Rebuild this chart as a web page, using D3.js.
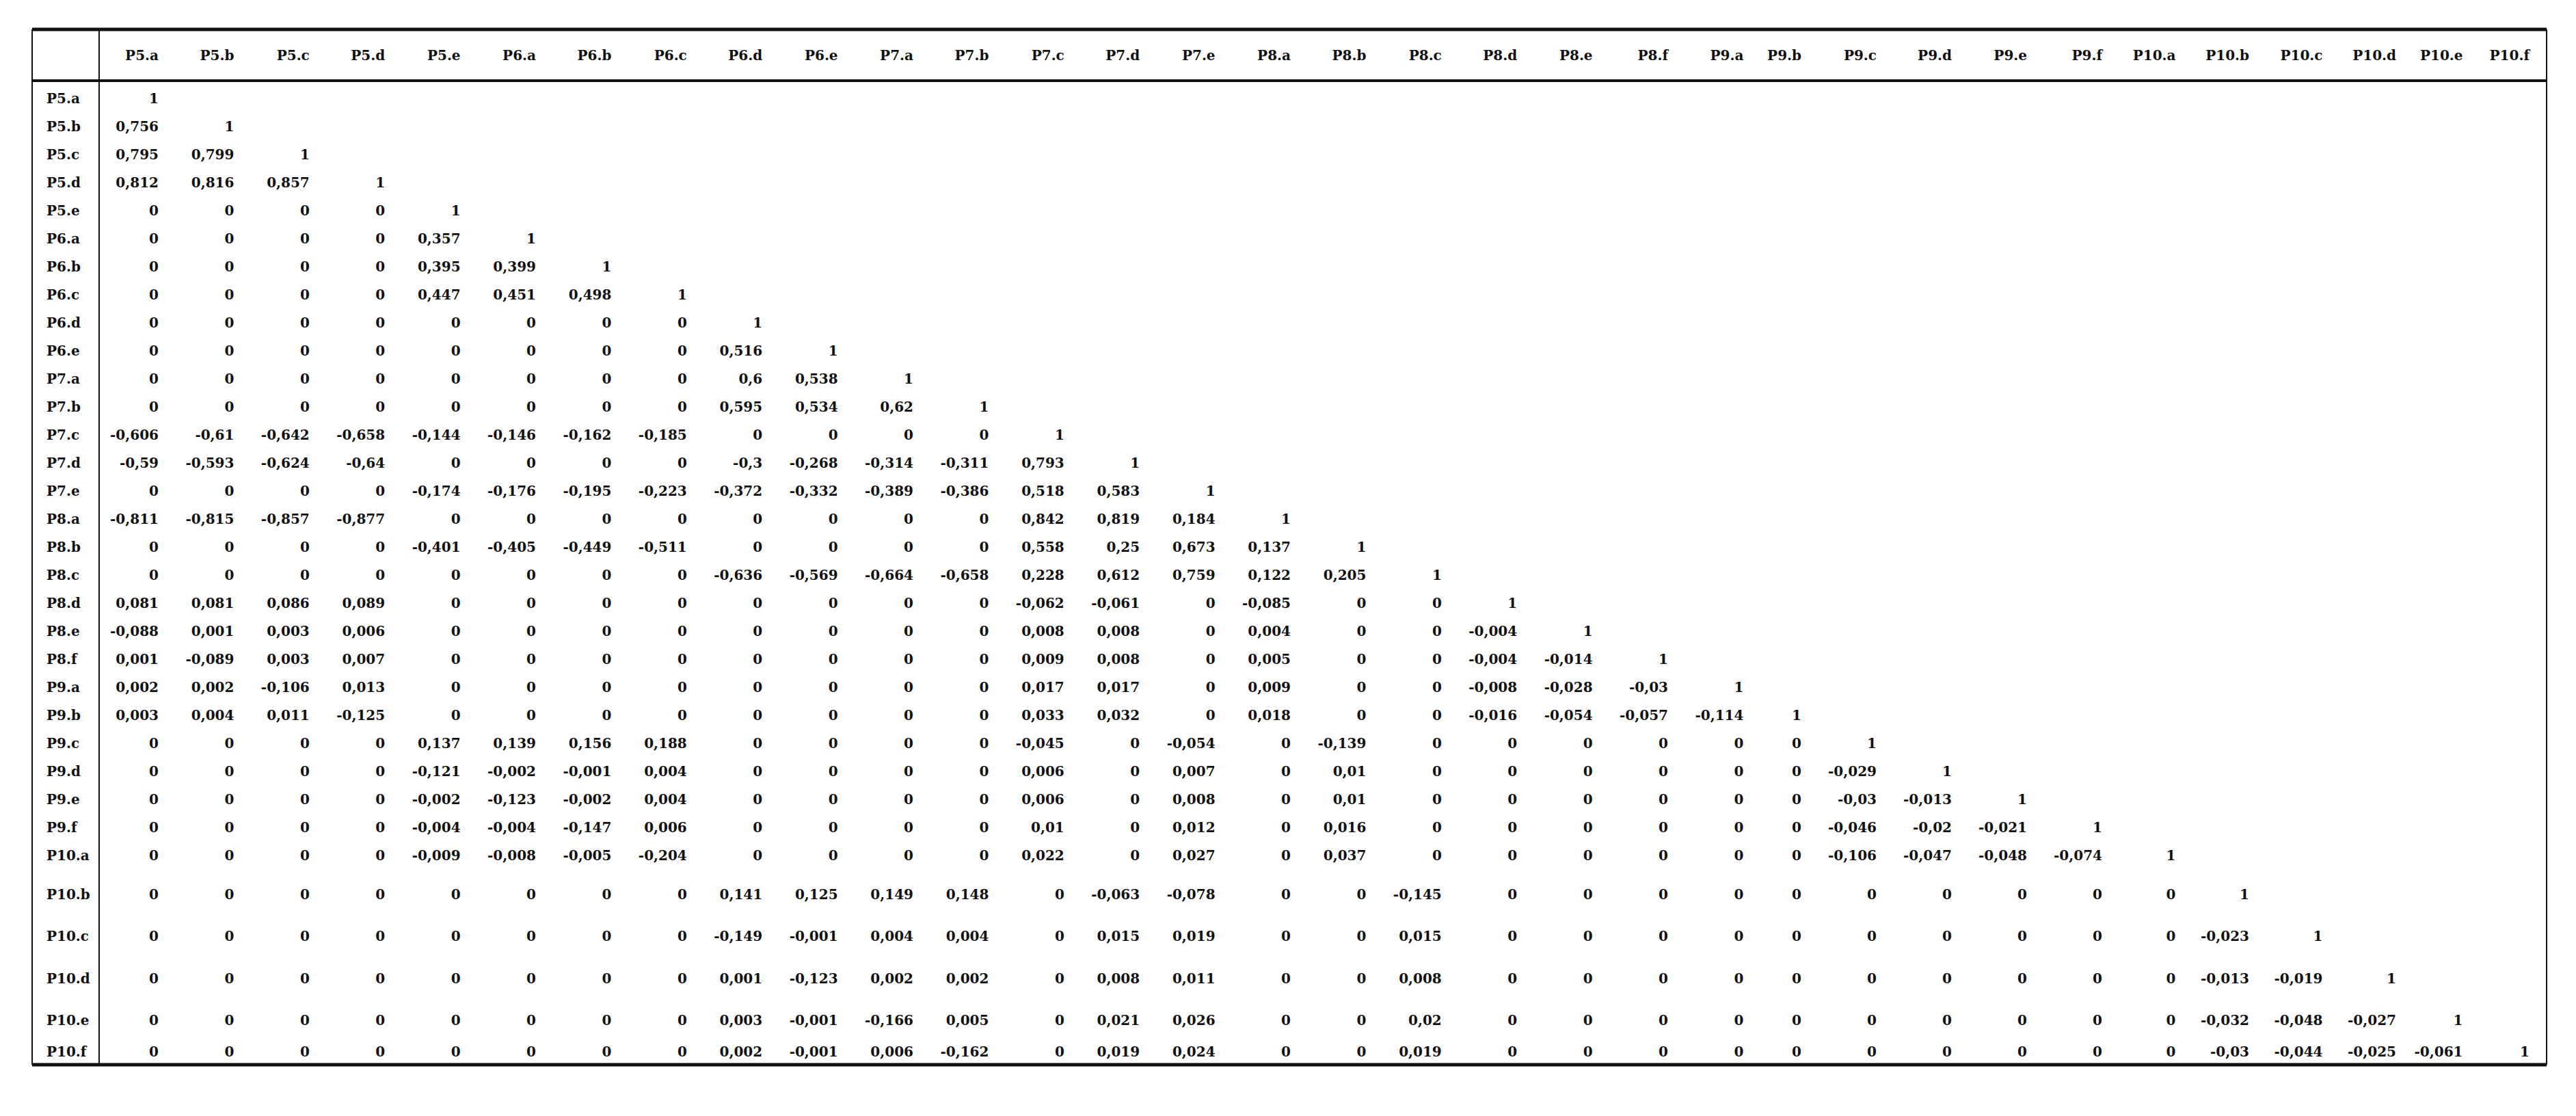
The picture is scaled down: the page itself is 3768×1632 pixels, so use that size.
<!DOCTYPE html>
<html>
<head>
<meta charset="utf-8">
<script src="https://cdn.jsdelivr.net/npm/d3@7/dist/d3.min.js"></script>
<style>
  body { margin: 0; background: #fff; }
  text { font-family: "DejaVu Serif", "Liberation Serif", serif; font-weight: bold; font-size: 20px; fill: #111; }
</style>
</head>
<body>
<svg id="chart" width="3768" height="1632"></svg>
<script>
// variables (columns and rows are the same list)
const vars = ["P5.a","P5.b","P5.c","P5.d","P5.e","P6.a","P6.b","P6.c","P6.d","P6.e",
  "P7.a","P7.b","P7.c","P7.d","P7.e","P8.a","P8.b","P8.c","P8.d","P8.e","P8.f",
  "P9.a","P9.b","P9.c","P9.d","P9.e","P9.f","P10.a","P10.b","P10.c","P10.d","P10.e","P10.f"]

// lower triangle, one array per row
const rP5a = [1]
const rP5b = [0.756,1]
const rP5c = [0.795,0.799,1]
const rP5d = [0.812,0.816,0.857,1]
const rP5e = [0,0,0,0,1]
const rP6a = [0,0,0,0,0.357,1]
const rP6b = [0,0,0,0,0.395,0.399,1]
const rP6c = [0,0,0,0,0.447,0.451,0.498,1]
const rP6d = [0,0,0,0,0,0,0,0,1]
const rP6e = [0,0,0,0,0,0,0,0,0.516,1]
const rP7a = [0,0,0,0,0,0,0,0,0.6,0.538,1]
const rP7b = [0,0,0,0,0,0,0,0,0.595,0.534,0.62,1]
const rP7c = [-0.606,-0.61,-0.642,-0.658,-0.144,-0.146,-0.162,-0.185,0,0,0,0,1]
const rP7d = [-0.59,-0.593,-0.624,-0.64,0,0,0,0,-0.3,-0.268,-0.314,-0.311,0.793,1]
const rP7e = [0,0,0,0,-0.174,-0.176,-0.195,-0.223,-0.372,-0.332,-0.389,-0.386,0.518,0.583,1]
const rP8a = [-0.811,-0.815,-0.857,-0.877,0,0,0,0,0,0,0,0,0.842,0.819,0.184,1]
const rP8b = [0,0,0,0,-0.401,-0.405,-0.449,-0.511,0,0,0,0,0.558,0.25,0.673,0.137,1]
const rP8c = [0,0,0,0,0,0,0,0,-0.636,-0.569,-0.664,-0.658,0.228,0.612,0.759,0.122,0.205,1]
const rP8d = [0.081,0.081,0.086,0.089,0,0,0,0,0,0,0,0,-0.062,-0.061,0,-0.085,0,0,1]
const rP8e = [-0.088,0.001,0.003,0.006,0,0,0,0,0,0,0,0,0.008,0.008,0,0.004,0,0,-0.004,1]
const rP8f = [0.001,-0.089,0.003,0.007,0,0,0,0,0,0,0,0,0.009,0.008,0,0.005,0,0,-0.004,-0.014,1]
const rP9a = [0.002,0.002,-0.106,0.013,0,0,0,0,0,0,0,0,0.017,0.017,0,0.009,0,0,-0.008,-0.028,-0.03,1]
const rP9b = [0.003,0.004,0.011,-0.125,0,0,0,0,0,0,0,0,0.033,0.032,0,0.018,0,0,-0.016,-0.054,-0.057,-0.114,1]
const rP9c = [0,0,0,0,0.137,0.139,0.156,0.188,0,0,0,0,-0.045,0,-0.054,0,-0.139,0,0,0,0,0,0,1]
const rP9d = [0,0,0,0,-0.121,-0.002,-0.001,0.004,0,0,0,0,0.006,0,0.007,0,0.01,0,0,0,0,0,0,-0.029,1]
const rP9e = [0,0,0,0,-0.002,-0.123,-0.002,0.004,0,0,0,0,0.006,0,0.008,0,0.01,0,0,0,0,0,0,-0.03,-0.013,1]
const rP9f = [0,0,0,0,-0.004,-0.004,-0.147,0.006,0,0,0,0,0.01,0,0.012,0,0.016,0,0,0,0,0,0,-0.046,-0.02,-0.021,1]
const rP10a = [0,0,0,0,-0.009,-0.008,-0.005,-0.204,0,0,0,0,0.022,0,0.027,0,0.037,0,0,0,0,0,0,-0.106,-0.047,-0.048,-0.074,1]
const rP10b = [0,0,0,0,0,0,0,0,0.141,0.125,0.149,0.148,0,-0.063,-0.078,0,0,-0.145,0,0,0,0,0,0,0,0,0,0,1]
const rP10c = [0,0,0,0,0,0,0,0,-0.149,-0.001,0.004,0.004,0,0.015,0.019,0,0,0.015,0,0,0,0,0,0,0,0,0,0,-0.023,1]
const rP10d = [0,0,0,0,0,0,0,0,0.001,-0.123,0.002,0.002,0,0.008,0.011,0,0,0.008,0,0,0,0,0,0,0,0,0,0,-0.013,-0.019,1]
const rP10e = [0,0,0,0,0,0,0,0,0.003,-0.001,-0.166,0.005,0,0.021,0.026,0,0,0.02,0,0,0,0,0,0,0,0,0,0,-0.032,-0.048,-0.027,1]
const rP10f = [0,0,0,0,0,0,0,0,0.002,-0.001,0.006,-0.162,0,0.019,0.024,0,0,0.019,0,0,0,0,0,0,0,0,0,0,-0.03,-0.044,-0.025,-0.061,1]

const rows = [rP5a,rP5b,rP5c,rP5d,rP5e,rP6a,rP6b,rP6c,rP6d,rP6e,rP7a,rP7b,rP7c,rP7d,rP7e,
  rP8a,rP8b,rP8c,rP8d,rP8e,rP8f,rP9a,rP9b,rP9c,rP9d,rP9e,rP9f,rP10a,rP10b,rP10c,rP10d,rP10e,rP10f]

// layout
const tLeft = 47, tRight = 3725, tTop = 43, headBottom = 118, tBottom = 1557, labelEdge = 145
// right edge of each column's text
const colRight = []
vars.forEach(function(v, i) {
  let x
  if (i <= 21) x = 232 + i * 110.4
  else if (i === 22) x = 2635
  else if (i <= 26) x = 2635 + (i - 22) * 110
  else if (i <= 30) x = 3075 + (i - 26) * 107.5
  else x = 3505 + (i - 30) * 97.5
  colRight.push(x)
})
const xCol = d3.scaleOrdinal().domain(vars).range(colRight)

// row heights: the four P10.b..P10.e rows are taller in the original
const tall = ["P10.b","P10.c","P10.d","P10.e"]
const rowH = vars.map(function(v) { return tall.indexOf(v) >= 0 ? 61.5 : 41 })
const rowCenters = []
let acc = headBottom + 5
rowH.forEach(function(h, i) {
  const c = tall.indexOf(vars[i]) >= 0 ? acc + h * 0.6 : acc + h / 2
  rowCenters.push(c)
  acc += h
})
const yRow = d3.scaleOrdinal().domain(vars).range(rowCenters)

const fmt = function(v) { return String(v).replace(".", ",") }

const svg = d3.select("#chart")

// borders
svg.append("line").attr("x1", tLeft).attr("x2", tRight).attr("y1", tTop).attr("y2", tTop)
  .attr("stroke", "#111").attr("stroke-width", 5)
svg.append("line").attr("x1", tLeft).attr("x2", tRight).attr("y1", headBottom).attr("y2", headBottom)
  .attr("stroke", "#111").attr("stroke-width", 4)
svg.append("line").attr("x1", tLeft).attr("x2", tRight).attr("y1", tBottom).attr("y2", tBottom)
  .attr("stroke", "#111").attr("stroke-width", 5)
;[tLeft, labelEdge, tRight].forEach(function(x) {
  svg.append("line").attr("x1", x).attr("x2", x).attr("y1", tTop).attr("y2", tBottom)
    .attr("stroke", "#111").attr("stroke-width", 2)
})

// column header
svg.append("g").selectAll("text")
  .data(vars)
  .enter()
  .append("text")
  .attr("x", function(d) { return xCol(d) })
  .attr("y", (tTop + headBottom) / 2)
  .attr("dy", "0.35em")
  .attr("text-anchor", "end")
  .text(function(d) { return d })

// row labels
svg.append("g").selectAll("text")
  .data(vars)
  .enter()
  .append("text")
  .attr("x", 68)
  .attr("y", function(d) { return yRow(d) })
  .attr("dy", "0.35em")
  .text(function(d) { return d })

// cells
const cells = []
rows.forEach(function(r, i) {
  r.forEach(function(v, j) { cells.push({row: vars[i], col: vars[j], v: v}) })
})
svg.append("g").selectAll("text")
  .data(cells)
  .enter()
  .append("text")
  .attr("x", function(d) { return xCol(d.col) })
  .attr("y", function(d) { return yRow(d.row) })
  .attr("dy", "0.35em")
  .attr("text-anchor", "end")
  .text(function(d) { return fmt(d.v) })
</script>
</body>
</html>
